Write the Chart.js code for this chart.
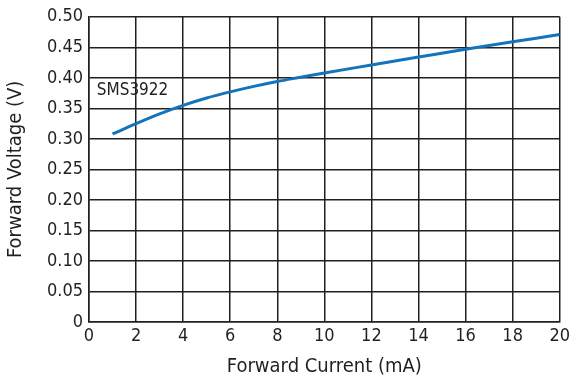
<!DOCTYPE html>
<html>
<head>
<meta charset="utf-8">
<script src="https://cdn.jsdelivr.net/npm/chart.js@4/dist/chart.umd.min.js"></script>
<style>
  html, body { margin: 0; padding: 0; background: #fff; }
  #wrap { width: 574px; height: 383px; }
</style>
</head>
<body>
<div id="wrap"><canvas id="vfChart" width="574" height="383"></canvas></div>
<script>
// Datos
const corriente = [1, 2, 3, 4, 5, 6, 7, 8, 9, 10, 12, 14, 16, 18, 20];
const voltaje = [0.308, 0.325, 0.341, 0.355, 0.367, 0.377, 0.386, 0.394, 0.401, 0.408, 0.421, 0.434, 0.447, 0.459, 0.471];
const xTicks = [0, 2, 4, 6, 8, 10, 12, 14, 16, 18, 20];
const yTicks = [0, 0.05, 0.10, 0.15, 0.20, 0.25, 0.30, 0.35, 0.40, 0.45, 0.50];
const etiquetaSerie = 'SMS3922';

const fuente = "'Liberation Sans Narrow', 'DejaVu Sans Condensed', Arial, sans-serif";

// Etiqueta de la serie dentro del gráfico
const etiquetaPlugin = {
    id: 'etiquetaSerie',
    afterDatasetsDraw(chart) {
        const ctx = chart.ctx;
        const x = chart.scales.x.getPixelForValue(0.33);
        const y = chart.scales.y.getPixelForValue(0.379);
        ctx.save();
        ctx.font = '17px ' + fuente;
        ctx.fillStyle = '#231f20';
        ctx.textBaseline = 'middle';
        ctx.fillText(etiquetaSerie, x, y);
        ctx.restore();
    }
};

const ctx = document.getElementById('vfChart').getContext('2d');
new Chart(ctx, {
    type: 'line',
    data: {
        datasets: [{
            label: etiquetaSerie,
            data: corriente.map((c, i) => ({ x: c, y: voltaje[i] })),
            borderColor: '#1474bb',
            borderWidth: 3,
            pointRadius: 0,
            cubicInterpolationMode: 'monotone',
            fill: false
        }]
    },
    options: {
        responsive: false,
        animation: false,
        layout: { padding: { top: 16, right: 12, left: 0, bottom: 0 } },
        plugins: {
            legend: { display: false },
            tooltip: { enabled: false }
        },
        scales: {
            x: {
                type: 'linear',
                min: 0,
                max: 20,
                afterBuildTicks: axis => { axis.ticks = xTicks.map(v => ({ value: v })); },
                afterFit: axis => { axis.height = 61; },
                grid: { color: '#231f20', lineWidth: 1.5, drawTicks: false },
                border: { color: '#231f20', width: 1.5 },
                ticks: {
                    color: '#231f20',
                    padding: 4,
                    font: { family: fuente, size: 18 },
                    maxRotation: 0
                },
                title: {
                    display: true,
                    text: 'Forward Current (mA)',
                    color: '#231f20',
                    font: { family: fuente, size: 20 },
                    padding: { top: 6 }
                }
            },
            y: {
                min: 0,
                max: 0.5,
                afterBuildTicks: axis => { axis.ticks = yTicks.map(v => ({ value: v })); },
                afterFit: axis => { axis.width = 89; },
                grid: { color: '#231f20', lineWidth: 1.5, drawTicks: false },
                border: { color: '#231f20', width: 1.5 },
                ticks: {
                    color: '#231f20',
                    padding: 6,
                    font: { family: fuente, size: 18 },
                    callback: v => v === 0 ? '0' : v.toFixed(2)
                },
                title: {
                    display: true,
                    text: 'Forward Voltage (V)',
                    color: '#231f20',
                    font: { family: fuente, size: 20 },
                    padding: { bottom: 4 }
                }
            }
        }
    },
    plugins: [etiquetaPlugin]
});
</script>
</body>
</html>
